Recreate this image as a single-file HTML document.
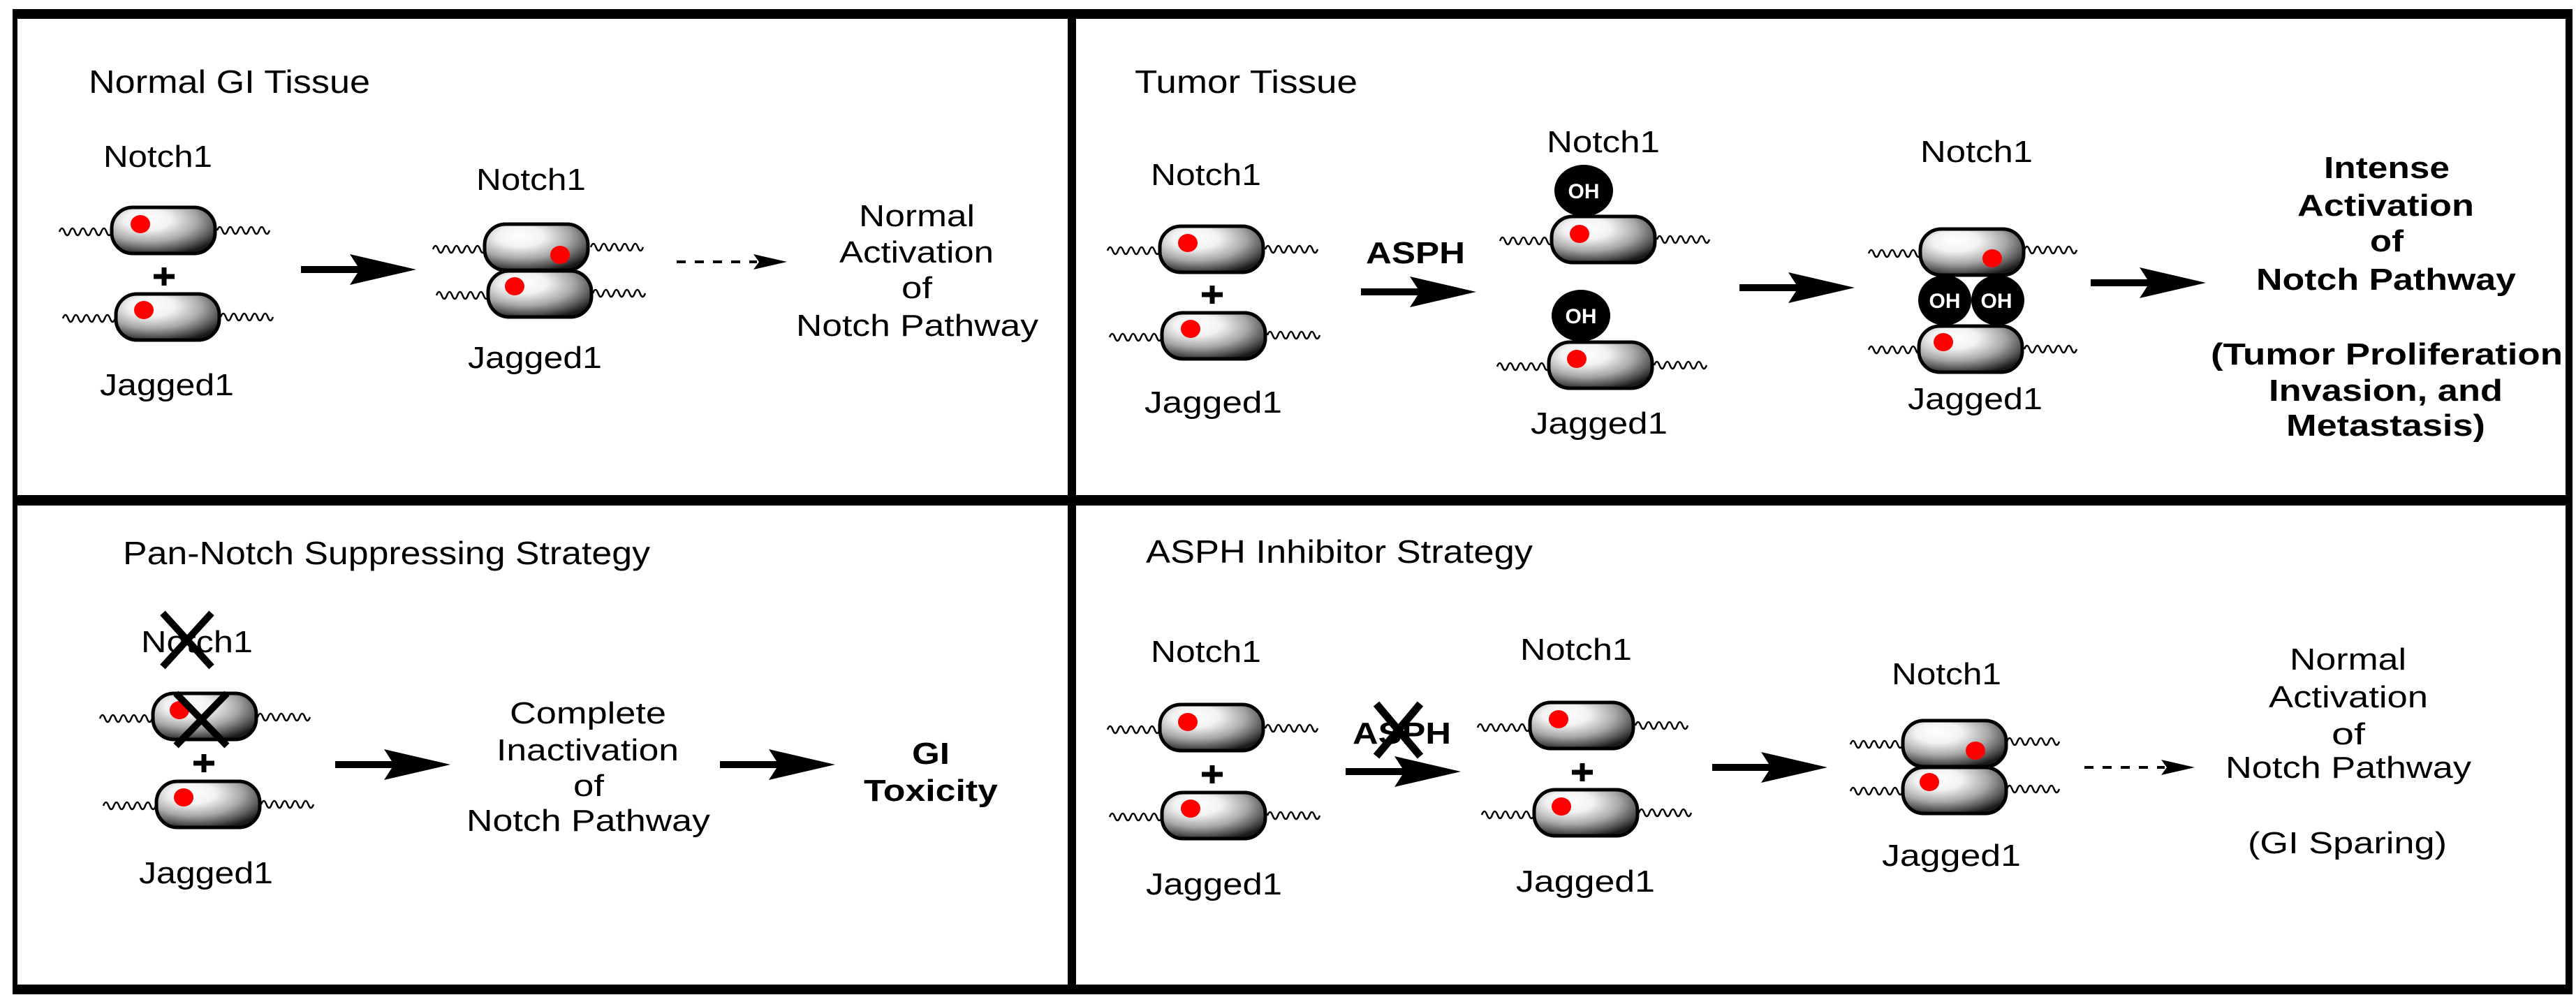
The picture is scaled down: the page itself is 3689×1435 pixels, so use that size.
<!DOCTYPE html>
<html><head><meta charset="utf-8"><style>
html,body{margin:0;padding:0;background:#fff;}
svg{display:block;}
text{font-family:"Liberation Sans",Arial,sans-serif;fill:#000;}
.r{font-size:44px;}
.b{font-size:44px;font-weight:bold;}
.oh{font-size:30px;font-weight:bold;fill:#fff;}
</style></head><body>
<svg width="3689" height="1435" viewBox="0 0 3689 1435" xmlns="http://www.w3.org/2000/svg">
<defs>
<radialGradient id="g" cx="0.38" cy="0.3" r="0.75" fx="0.33" fy="0.25">
<stop offset="0" stop-color="#fff"/><stop offset="0.3" stop-color="#f2f2f2"/><stop offset="0.62" stop-color="#a8a8a8"/><stop offset="0.85" stop-color="#555"/><stop offset="1" stop-color="#1a1a1a"/>
</radialGradient>
<g id="cap"><rect x="0" y="0" width="148" height="66" rx="30" ry="30" fill="url(#g)" stroke="#000" stroke-width="5"/></g>
<path id="wv" d="M0 2 q3.75 -10 7.5 0 t7.5 0 t7.5 0 t7.5 0 t7.5 0 t7.5 0 t7.5 0 t7.5 0 t7.5 0 t7.5 0" fill="none" stroke="#000" stroke-width="2.5"/>
<path id="ar" d="M0 -5 H81 L70 -22 L165 0 L70 22 L81 5 H0 Z" fill="#000"/>
<g id="da"><line x1="0" y1="0" x2="115" y2="0" stroke="#000" stroke-width="4" stroke-dasharray="13,13"/><path d="M110 -11 L158 0 L110 11 L118 0 Z" fill="#000"/></g>
<g id="pl"><rect x="-15" y="-3.5" width="30" height="7"/><rect x="-3.5" y="-13" width="7" height="26"/></g>
</defs>

<rect x="18" y="13" width="3666" height="14" fill="#000"/>
<rect x="18" y="1410" width="3666" height="14" fill="#000"/>
<rect x="18" y="13" width="7" height="1411" fill="#000"/>
<rect x="3674" y="13" width="10" height="1411" fill="#000"/>
<rect x="1529" y="13" width="12" height="1411" fill="#000"/>
<rect x="18" y="709" width="3666" height="15" fill="#000"/>

<text class="r" x="127" y="133" textLength="403" lengthAdjust="spacingAndGlyphs" style="font-size:46px">Normal GI Tissue</text>
<text class="r" x="148" y="239" textLength="156" lengthAdjust="spacingAndGlyphs">Notch1</text>
<use href="#wv" x="85" y="330"/><use href="#wv" x="311" y="328"/>
<use href="#cap" x="160" y="297"/><ellipse cx="201" cy="321" rx="14" ry="13" fill="#f00"/>
<use href="#pl" x="235" y="396"/>
<use href="#wv" x="90" y="454"/><use href="#wv" x="316" y="452"/>
<use href="#cap" x="166" y="421"/><ellipse cx="206" cy="444" rx="14" ry="13" fill="#f00"/>
<text class="r" x="143" y="566" textLength="192" lengthAdjust="spacingAndGlyphs">Jagged1</text>
<use href="#ar" x="431" y="386"/>
<text class="r" x="682" y="272" textLength="157" lengthAdjust="spacingAndGlyphs">Notch1</text>
<use href="#wv" x="620" y="355"/><use href="#wv" x="846" y="352"/>
<use href="#wv" x="625" y="421"/><use href="#wv" x="849" y="418"/>
<use href="#cap" x="694" y="321"/><ellipse cx="802" cy="365" rx="14" ry="13" fill="#f00"/>
<use href="#cap" x="699" y="388"/><ellipse cx="737" cy="410" rx="14" ry="13" fill="#f00"/>
<text class="r" x="670" y="527" textLength="192" lengthAdjust="spacingAndGlyphs">Jagged1</text>
<use href="#da" x="969" y="375"/>
<text class="r" x="1230" y="324" textLength="166" lengthAdjust="spacingAndGlyphs">Normal</text>
<text class="r" x="1202" y="376" textLength="221" lengthAdjust="spacingAndGlyphs">Activation</text>
<text class="r" x="1291" y="427" textLength="44" lengthAdjust="spacingAndGlyphs">of</text>
<text class="r" x="1140" y="481" textLength="347" lengthAdjust="spacingAndGlyphs">Notch Pathway</text>

<text class="r" x="1625" y="133" textLength="319" lengthAdjust="spacingAndGlyphs" style="font-size:46px">Tumor Tissue</text>
<text class="r" x="1648" y="265" textLength="158" lengthAdjust="spacingAndGlyphs">Notch1</text>
<use href="#wv" x="1586" y="357"/><use href="#wv" x="1812" y="355"/>
<use href="#cap" x="1661" y="324"/><ellipse cx="1701" cy="348" rx="14" ry="13" fill="#f00"/>
<use href="#pl" x="1736" y="422"/>
<use href="#wv" x="1589" y="481"/><use href="#wv" x="1815" y="478"/>
<use href="#cap" x="1664" y="448"/><ellipse cx="1705" cy="471" rx="14" ry="13" fill="#f00"/>
<text class="r" x="1639" y="591" textLength="197" lengthAdjust="spacingAndGlyphs">Jagged1</text>
<text class="b" x="1956" y="377" textLength="142" lengthAdjust="spacingAndGlyphs">ASPH</text>
<use href="#ar" x="1949" y="418"/>
<text class="r" x="2215" y="218" textLength="162" lengthAdjust="spacingAndGlyphs">Notch1</text>
<ellipse cx="2268" cy="273" rx="42" ry="37" fill="#000"/><text class="oh" x="2268" y="284" text-anchor="middle">OH</text>
<use href="#wv" x="2148" y="343"/><use href="#wv" x="2373" y="341"/>
<use href="#cap" x="2222" y="310"/><ellipse cx="2262" cy="335" rx="14" ry="13" fill="#f00"/>
<ellipse cx="2264" cy="452" rx="42" ry="37" fill="#000"/><text class="oh" x="2264" y="463" text-anchor="middle">OH</text>
<use href="#wv" x="2144" y="523"/><use href="#wv" x="2369" y="521"/>
<use href="#cap" x="2218" y="490"/><ellipse cx="2258" cy="514" rx="14" ry="13" fill="#f00"/>
<text class="r" x="2192" y="621" textLength="196" lengthAdjust="spacingAndGlyphs">Jagged1</text>
<use href="#ar" x="2491" y="412"/>
<text class="r" x="2750" y="232" textLength="161" lengthAdjust="spacingAndGlyphs">Notch1</text>
<ellipse cx="2785" cy="430" rx="38" ry="36" fill="#000"/>
<ellipse cx="2861" cy="430" rx="38" ry="36" fill="#000"/>
<text class="oh" x="2785" y="441" text-anchor="middle">OH</text>
<text class="oh" x="2859" y="441" text-anchor="middle">OH</text>
<use href="#wv" x="2676" y="361"/><use href="#wv" x="2899" y="356"/>
<use href="#cap" x="2750" y="328"/><ellipse cx="2853" cy="370" rx="14" ry="13" fill="#f00"/>
<use href="#wv" x="2676" y="499"/><use href="#wv" x="2899" y="498"/>
<use href="#cap" x="2748" y="467"/><ellipse cx="2783" cy="490" rx="14" ry="13" fill="#f00"/>
<text class="r" x="2732" y="586" textLength="193" lengthAdjust="spacingAndGlyphs">Jagged1</text>
<use href="#ar" x="2994" y="405"/>
<text class="b" x="3328" y="255" textLength="180" lengthAdjust="spacingAndGlyphs">Intense</text>
<text class="b" x="3290" y="309" textLength="253" lengthAdjust="spacingAndGlyphs">Activation</text>
<text class="b" x="3394" y="360" textLength="48" lengthAdjust="spacingAndGlyphs">of</text>
<text class="b" x="3231" y="415" textLength="372" lengthAdjust="spacingAndGlyphs">Notch Pathway</text>
<text class="b" x="3166" y="522" textLength="504" lengthAdjust="spacingAndGlyphs">(Tumor Proliferation</text>
<text class="b" x="3249" y="574" textLength="335" lengthAdjust="spacingAndGlyphs">Invasion, and</text>
<text class="b" x="3274" y="624" textLength="285" lengthAdjust="spacingAndGlyphs">Metastasis)</text>

<text class="r" x="176" y="808" textLength="755" lengthAdjust="spacingAndGlyphs" style="font-size:46px">Pan-Notch Suppressing Strategy</text>
<text class="r" x="202" y="934" textLength="160" lengthAdjust="spacingAndGlyphs">Notch1</text>
<g stroke="#000" stroke-width="10"><line x1="233" y1="878" x2="303" y2="955"/><line x1="303" y1="878" x2="233" y2="955"/></g>
<use href="#wv" x="143" y="1027"/><use href="#wv" x="369" y="1025"/>
<use href="#cap" x="219" y="993"/><ellipse cx="257" cy="1017" rx="14" ry="13" fill="#f00"/>
<g stroke="#000" stroke-width="10"><line x1="252" y1="993" x2="325" y2="1068"/><line x1="325" y1="993" x2="252" y2="1068"/></g>
<use href="#pl" x="292" y="1093"/>
<use href="#wv" x="148" y="1152"/><use href="#wv" x="374" y="1150"/>
<use href="#cap" x="224" y="1119"/><ellipse cx="263" cy="1142" rx="14" ry="13" fill="#f00"/>
<text class="r" x="199" y="1265" textLength="192" lengthAdjust="spacingAndGlyphs">Jagged1</text>
<use href="#ar" x="480" y="1095"/>
<text class="r" x="730" y="1036" textLength="224" lengthAdjust="spacingAndGlyphs">Complete</text>
<text class="r" x="711" y="1089" textLength="261" lengthAdjust="spacingAndGlyphs">Inactivation</text>
<text class="r" x="821" y="1140" textLength="44" lengthAdjust="spacingAndGlyphs">of</text>
<text class="r" x="668" y="1190" textLength="349" lengthAdjust="spacingAndGlyphs">Notch Pathway</text>
<use href="#ar" x="1031" y="1095"/>
<text class="b" x="1306" y="1094" textLength="54" lengthAdjust="spacingAndGlyphs">GI</text>
<text class="b" x="1237" y="1147" textLength="192" lengthAdjust="spacingAndGlyphs">Toxicity</text>

<text class="r" x="1641" y="806" textLength="554" lengthAdjust="spacingAndGlyphs" style="font-size:46px">ASPH Inhibitor Strategy</text>
<text class="r" x="1648" y="948" textLength="158" lengthAdjust="spacingAndGlyphs">Notch1</text>
<use href="#wv" x="1586" y="1043"/><use href="#wv" x="1812" y="1041"/>
<use href="#cap" x="1661" y="1009"/><ellipse cx="1701" cy="1034" rx="14" ry="13" fill="#f00"/>
<use href="#pl" x="1736" y="1109"/>
<use href="#wv" x="1589" y="1168"/><use href="#wv" x="1815" y="1166"/>
<use href="#cap" x="1664" y="1135"/><ellipse cx="1705" cy="1158" rx="14" ry="13" fill="#f00"/>
<text class="r" x="1641" y="1281" textLength="195" lengthAdjust="spacingAndGlyphs">Jagged1</text>
<text class="b" x="1937" y="1065" textLength="141" lengthAdjust="spacingAndGlyphs">ASPH</text>
<g stroke="#000" stroke-width="11"><line x1="1971" y1="1008" x2="2034" y2="1083"/><line x1="2034" y1="1008" x2="1971" y2="1083"/></g>
<use href="#ar" x="1927" y="1105"/>
<text class="r" x="2177" y="945" textLength="160" lengthAdjust="spacingAndGlyphs">Notch1</text>
<use href="#wv" x="2116" y="1040"/><use href="#wv" x="2342" y="1037"/>
<use href="#cap" x="2191" y="1006"/><ellipse cx="2232" cy="1030" rx="14" ry="13" fill="#f00"/>
<use href="#pl" x="2266" y="1106"/>
<use href="#wv" x="2122" y="1165"/><use href="#wv" x="2347" y="1162"/>
<use href="#cap" x="2197" y="1131"/><ellipse cx="2236" cy="1155" rx="14" ry="13" fill="#f00"/>
<text class="r" x="2171" y="1277" textLength="199" lengthAdjust="spacingAndGlyphs">Jagged1</text>
<use href="#ar" x="2452" y="1099"/>
<text class="r" x="2709" y="980" textLength="157" lengthAdjust="spacingAndGlyphs">Notch1</text>
<use href="#wv" x="2650" y="1064"/><use href="#wv" x="2874" y="1060"/>
<use href="#wv" x="2650" y="1131"/><use href="#wv" x="2874" y="1128"/>
<use href="#cap" x="2725" y="1032"/><ellipse cx="2829" cy="1075" rx="14" ry="13" fill="#f00"/>
<use href="#cap" x="2725" y="1099"/><ellipse cx="2763" cy="1120" rx="14" ry="13" fill="#f00"/>
<text class="r" x="2695" y="1240" textLength="199" lengthAdjust="spacingAndGlyphs">Jagged1</text>
<use href="#da" x="2985" y="1099"/>
<text class="r" x="3279" y="959" textLength="167" lengthAdjust="spacingAndGlyphs">Normal</text>
<text class="r" x="3249" y="1013" textLength="228" lengthAdjust="spacingAndGlyphs">Activation</text>
<text class="r" x="3339" y="1066" textLength="48" lengthAdjust="spacingAndGlyphs">of</text>
<text class="r" x="3187" y="1114" textLength="352" lengthAdjust="spacingAndGlyphs">Notch Pathway</text>
<text class="r" x="3219" y="1222" textLength="285" lengthAdjust="spacingAndGlyphs">(GI Sparing)</text>
</svg>
</body></html>
